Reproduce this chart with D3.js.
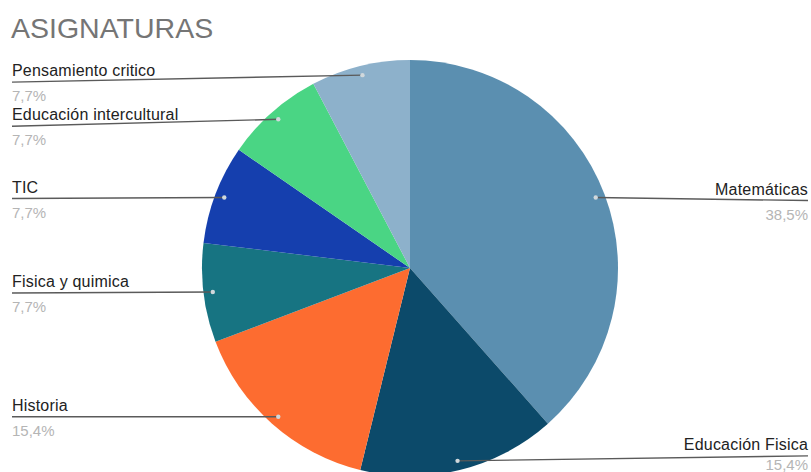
<!DOCTYPE html>
<html>
<head>
<meta charset="utf-8">
<script src="https://cdn.jsdelivr.net/npm/d3@7"></script>
<style>
  body { margin: 0; background: #fff; }
  svg { display: block; font-family: "Liberation Sans", Arial, sans-serif; }
</style>
</head>
<body>
<svg id="chart" width="811" height="472"></svg>
<script>
// chart data
var subjects = ["Matemáticas", "Educación Física", "Historia", "Física y química",
                "TIC", "Educación intercultural", "Pensamiento crítico"];
var counts = [5, 2, 2, 1, 1, 1, 1];
var colors = ["#5b8fb0", "#0c4a6a", "#fd6c30", "#177482", "#153fae", "#4ad584", "#8db1cb"];
var shownNames = ["Matemáticas", "Educación Fisica", "Historia", "Fisica y quimica",
                  "TIC", "Educación intercultural", "Pensamiento critico"];

// small vertical nudges of label lines so labels do not collide
var labelNudge = [3, -5, 0, 1, 1, 7, 7];

var W = 811, H = 472;
var cx = 410, cy = 268, R = 208;

var svg = d3.select("#chart");

svg.append("text")
  .attr("x", 11).attr("y", 38)
  .attr("font-size", 28.5)
  .attr("fill", "#757575")
  .text("ASIGNATURAS");

var total = d3.sum(counts);
var pie = d3.pie().sort(null).value(function (d) { return d; });
var arcs = pie(counts);
var arc = d3.arc().innerRadius(0).outerRadius(R);
var fmt = function (v) { return (v * 100).toFixed(1).replace(".", ",") + "%"; };

var g = svg.append("g").attr("transform", "translate(" + cx + "," + cy + ")");
g.selectAll("path")
  .data(arcs)
  .enter().append("path")
  .attr("d", arc)
  .attr("fill", function (d, i) { return colors[i]; });

var labels = svg.append("g");
arcs.forEach(function (a, i) {
  var mid = (a.startAngle + a.endAngle) / 2;
  var px = cx + Math.sin(mid) * R * 0.955;
  var py = cy - Math.cos(mid) * R * 0.955;
  var right = Math.sin(mid) > 0;
  var ly = py + labelNudge[i];
  var ex = right ? 808 : 12;

  labels.append("line")
    .attr("x1", px).attr("y1", py)
    .attr("x2", ex).attr("y2", ly)
    .attr("stroke", "#5a5a5a")
    .attr("stroke-width", 1.4);

  labels.append("circle")
    .attr("cx", px).attr("cy", py).attr("r", 2.2)
    .attr("fill", "#d0d8dc");

  labels.append("text")
    .attr("x", ex).attr("y", ly - 6)
    .attr("text-anchor", right ? "end" : "start")
    .attr("font-size", 16)
    .attr("letter-spacing", 0.2)
    .attr("fill", "#222")
    .text(shownNames[i]);

  labels.append("text")
    .attr("x", ex).attr("y", Math.min(ly + 19, H - 2))
    .attr("text-anchor", right ? "end" : "start")
    .attr("font-size", 15)
    .attr("fill", "#b5b5b5")
    .text(fmt(a.data / total));
});
</script>
</body>
</html>
